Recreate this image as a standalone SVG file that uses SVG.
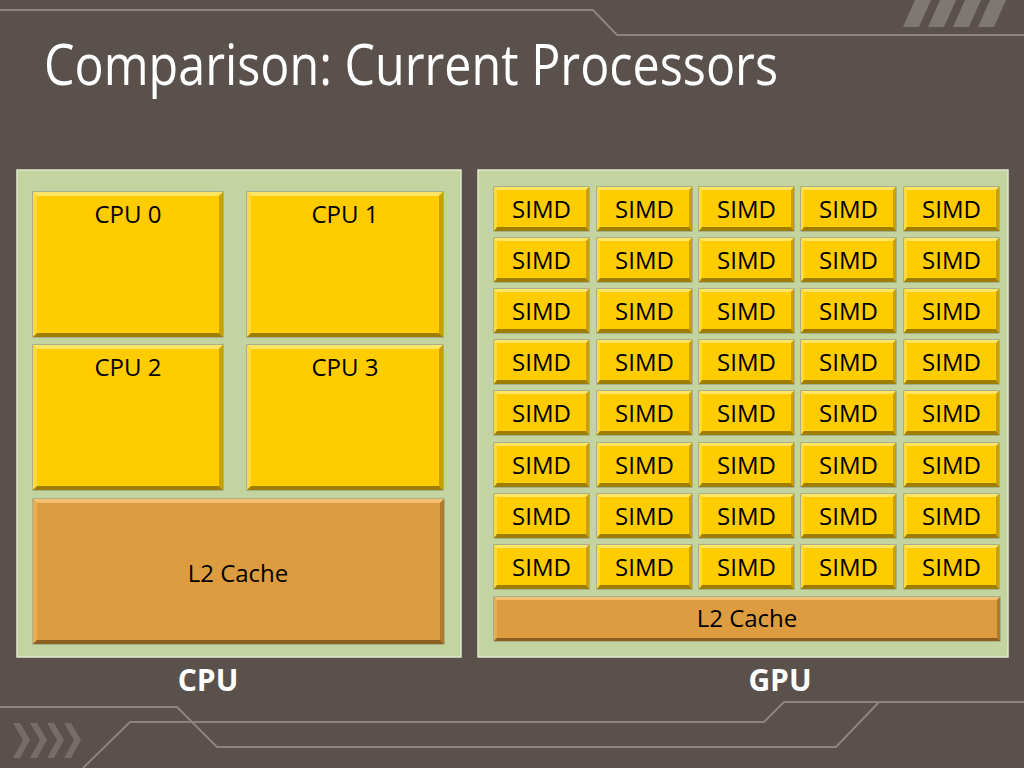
<svg xmlns="http://www.w3.org/2000/svg" xmlns:xlink="http://www.w3.org/1999/xlink" width="1024" height="768" viewBox="0 0 1024 768">
<style>
.deco{fill:none;stroke:#8d847f;stroke-width:2}
.stripe{fill:#7e7773}
.chev{fill:#766d69}
.panel{fill:#c4d4a0;stroke:#dfe7cb;stroke-width:1.5}
.yel{fill:#ffcc00;stroke:#8a8a76;stroke-width:1}
.ora{fill:#dd9c40;stroke:#8a8a76;stroke-width:1}
.yt{fill:#ffe566}.yl{fill:#ffd941}.yr{fill:#c9a000}.yb{fill:#9e7e00}
.ot{fill:#f2c070}.ol{fill:#e6ad55}.or{fill:#b07a2a}.ob{fill:#8c6020}
.lbl{font-family:"Open Sans","Noto Sans",sans-serif;font-size:24px;fill:#000;text-anchor:middle}
.big{font-family:"Open Sans","Noto Sans",sans-serif;font-size:30px;font-weight:bold;fill:#fff;text-anchor:middle}
.title{font-family:"Open Sans","Noto Sans",sans-serif;font-size:56px;fill:#fff}
</style>
<defs>
<g id="simdbox">
<rect class="yel" x="0" y="0" width="95" height="44"/>
<polygon class="yt" points="0,0 95,0 92,3 3,3"/>
<polygon class="yl" points="0,0 3,3 3,40 0,44"/>
<polygon class="yr" points="95,0 95,44 92,40 92,3"/>
<polygon class="yb" points="0,44 95,44 92,40 3,40"/>
</g>
</defs>
<rect x="0" y="0" width="1024" height="768" fill="#5a514d"/>
<g id="decoration">
<polyline class="deco" points="0,10 593,10 617,35 1024,35"/>
<polygon class="stripe" points="915,0 931,0 919,27 903,27"/>
<polygon class="stripe" points="940,0 956,0 944,27 928,27"/>
<polygon class="stripe" points="965,0 981,0 969,27 953,27"/>
<polygon class="stripe" points="990,0 1006,0 994,27 978,27"/>
<polyline class="deco" points="0,707 177,707 217,747 836,747 879,702 1024,702"/>
<polyline class="deco" points="83,768 130,722 764,722 784,702 879,702"/>
<polygon class="chev" points="13,723 20,723 30,740 20,758 13,758 23,740"/>
<polygon class="chev" points="30,723 37,723 47,740 37,758 30,758 40,740"/>
<polygon class="chev" points="47,723 54,723 64,740 54,758 47,758 57,740"/>
<polygon class="chev" points="64,723 71,723 81,740 71,758 64,758 74,740"/>
</g>
<text class="title" x="44" y="85" textLength="734" lengthAdjust="spacingAndGlyphs">Comparison: Current Processors</text>
<g id="cpu-panel">
<rect class="panel" x="17" y="170" width="444" height="487"/>
<text class="big" x="208" y="691">CPU</text>
</g>
<g id="gpu-panel">
<rect class="panel" x="478" y="170" width="530" height="487"/>
<text class="big" x="780" y="691">GPU</text>
</g>
<g id="cpu0">
<rect class="yel" x="33" y="192" width="190" height="145"/>
<polygon class="yt" points="33,192 223,192 219,196 37,196"/>
<polygon class="yl" points="33,192 37,196 37,333 33,337"/>
<polygon class="yr" points="223,192 223,337 219,333 219,196"/>
<polygon class="yb" points="33,337 223,337 219,333 37,333"/>
<text class="lbl" x="128" y="223">CPU 0</text>
</g>
<g id="cpu1">
<rect class="yel" x="247" y="192" width="196" height="145"/>
<polygon class="yt" points="247,192 443,192 439,196 251,196"/>
<polygon class="yl" points="247,192 251,196 251,333 247,337"/>
<polygon class="yr" points="443,192 443,337 439,333 439,196"/>
<polygon class="yb" points="247,337 443,337 439,333 251,333"/>
<text class="lbl" x="345" y="223">CPU 1</text>
</g>
<g id="cpu2">
<rect class="yel" x="33" y="345" width="190" height="145"/>
<polygon class="yt" points="33,345 223,345 219,349 37,349"/>
<polygon class="yl" points="33,345 37,349 37,486 33,490"/>
<polygon class="yr" points="223,345 223,490 219,486 219,349"/>
<polygon class="yb" points="33,490 223,490 219,486 37,486"/>
<text class="lbl" x="128" y="376">CPU 2</text>
</g>
<g id="cpu3">
<rect class="yel" x="247" y="345" width="196" height="145"/>
<polygon class="yt" points="247,345 443,345 439,349 251,349"/>
<polygon class="yl" points="247,345 251,349 251,486 247,490"/>
<polygon class="yr" points="443,345 443,490 439,486 439,349"/>
<polygon class="yb" points="247,490 443,490 439,486 251,486"/>
<text class="lbl" x="345" y="376">CPU 3</text>
</g>
<g id="cpu-l2">
<rect class="ora" x="33" y="499" width="411" height="145"/>
<polygon class="ot" points="33,499 444,499 440,503 37,503"/>
<polygon class="ol" points="33,499 37,503 37,640 33,644"/>
<polygon class="or" points="444,499 444,644 440,640 440,503"/>
<polygon class="ob" points="33,644 444,644 440,640 37,640"/>
<text class="lbl" x="238" y="582">L2 Cache</text>
</g>
<g id="gpu-l2">
<rect class="ora" x="494" y="597" width="506" height="44"/>
<polygon class="ot" points="494,597 1000,597 997,600 497,600"/>
<polygon class="ol" points="494,597 497,600 497,638 494,641"/>
<polygon class="or" points="1000,597 1000,641 997,638 997,600"/>
<polygon class="ob" points="494,641 1000,641 997,638 497,638"/>
<text class="lbl" x="747" y="627">L2 Cache</text>
</g>
<g id="simd-r1c1"><use xlink:href="#simdbox" x="494" y="187"/><text class="lbl" x="541.5" y="218">SIMD</text></g>
<g id="simd-r1c2"><use xlink:href="#simdbox" x="597" y="187"/><text class="lbl" x="644.5" y="218">SIMD</text></g>
<g id="simd-r1c3"><use xlink:href="#simdbox" x="699" y="187"/><text class="lbl" x="746.5" y="218">SIMD</text></g>
<g id="simd-r1c4"><use xlink:href="#simdbox" x="801" y="187"/><text class="lbl" x="848.5" y="218">SIMD</text></g>
<g id="simd-r1c5"><use xlink:href="#simdbox" x="904" y="187"/><text class="lbl" x="951.5" y="218">SIMD</text></g>
<g id="simd-r2c1"><use xlink:href="#simdbox" x="494" y="238"/><text class="lbl" x="541.5" y="269">SIMD</text></g>
<g id="simd-r2c2"><use xlink:href="#simdbox" x="597" y="238"/><text class="lbl" x="644.5" y="269">SIMD</text></g>
<g id="simd-r2c3"><use xlink:href="#simdbox" x="699" y="238"/><text class="lbl" x="746.5" y="269">SIMD</text></g>
<g id="simd-r2c4"><use xlink:href="#simdbox" x="801" y="238"/><text class="lbl" x="848.5" y="269">SIMD</text></g>
<g id="simd-r2c5"><use xlink:href="#simdbox" x="904" y="238"/><text class="lbl" x="951.5" y="269">SIMD</text></g>
<g id="simd-r3c1"><use xlink:href="#simdbox" x="494" y="289"/><text class="lbl" x="541.5" y="320">SIMD</text></g>
<g id="simd-r3c2"><use xlink:href="#simdbox" x="597" y="289"/><text class="lbl" x="644.5" y="320">SIMD</text></g>
<g id="simd-r3c3"><use xlink:href="#simdbox" x="699" y="289"/><text class="lbl" x="746.5" y="320">SIMD</text></g>
<g id="simd-r3c4"><use xlink:href="#simdbox" x="801" y="289"/><text class="lbl" x="848.5" y="320">SIMD</text></g>
<g id="simd-r3c5"><use xlink:href="#simdbox" x="904" y="289"/><text class="lbl" x="951.5" y="320">SIMD</text></g>
<g id="simd-r4c1"><use xlink:href="#simdbox" x="494" y="340"/><text class="lbl" x="541.5" y="371">SIMD</text></g>
<g id="simd-r4c2"><use xlink:href="#simdbox" x="597" y="340"/><text class="lbl" x="644.5" y="371">SIMD</text></g>
<g id="simd-r4c3"><use xlink:href="#simdbox" x="699" y="340"/><text class="lbl" x="746.5" y="371">SIMD</text></g>
<g id="simd-r4c4"><use xlink:href="#simdbox" x="801" y="340"/><text class="lbl" x="848.5" y="371">SIMD</text></g>
<g id="simd-r4c5"><use xlink:href="#simdbox" x="904" y="340"/><text class="lbl" x="951.5" y="371">SIMD</text></g>
<g id="simd-r5c1"><use xlink:href="#simdbox" x="494" y="391"/><text class="lbl" x="541.5" y="422">SIMD</text></g>
<g id="simd-r5c2"><use xlink:href="#simdbox" x="597" y="391"/><text class="lbl" x="644.5" y="422">SIMD</text></g>
<g id="simd-r5c3"><use xlink:href="#simdbox" x="699" y="391"/><text class="lbl" x="746.5" y="422">SIMD</text></g>
<g id="simd-r5c4"><use xlink:href="#simdbox" x="801" y="391"/><text class="lbl" x="848.5" y="422">SIMD</text></g>
<g id="simd-r5c5"><use xlink:href="#simdbox" x="904" y="391"/><text class="lbl" x="951.5" y="422">SIMD</text></g>
<g id="simd-r6c1"><use xlink:href="#simdbox" x="494" y="443"/><text class="lbl" x="541.5" y="474">SIMD</text></g>
<g id="simd-r6c2"><use xlink:href="#simdbox" x="597" y="443"/><text class="lbl" x="644.5" y="474">SIMD</text></g>
<g id="simd-r6c3"><use xlink:href="#simdbox" x="699" y="443"/><text class="lbl" x="746.5" y="474">SIMD</text></g>
<g id="simd-r6c4"><use xlink:href="#simdbox" x="801" y="443"/><text class="lbl" x="848.5" y="474">SIMD</text></g>
<g id="simd-r6c5"><use xlink:href="#simdbox" x="904" y="443"/><text class="lbl" x="951.5" y="474">SIMD</text></g>
<g id="simd-r7c1"><use xlink:href="#simdbox" x="494" y="494"/><text class="lbl" x="541.5" y="525">SIMD</text></g>
<g id="simd-r7c2"><use xlink:href="#simdbox" x="597" y="494"/><text class="lbl" x="644.5" y="525">SIMD</text></g>
<g id="simd-r7c3"><use xlink:href="#simdbox" x="699" y="494"/><text class="lbl" x="746.5" y="525">SIMD</text></g>
<g id="simd-r7c4"><use xlink:href="#simdbox" x="801" y="494"/><text class="lbl" x="848.5" y="525">SIMD</text></g>
<g id="simd-r7c5"><use xlink:href="#simdbox" x="904" y="494"/><text class="lbl" x="951.5" y="525">SIMD</text></g>
<g id="simd-r8c1"><use xlink:href="#simdbox" x="494" y="545"/><text class="lbl" x="541.5" y="576">SIMD</text></g>
<g id="simd-r8c2"><use xlink:href="#simdbox" x="597" y="545"/><text class="lbl" x="644.5" y="576">SIMD</text></g>
<g id="simd-r8c3"><use xlink:href="#simdbox" x="699" y="545"/><text class="lbl" x="746.5" y="576">SIMD</text></g>
<g id="simd-r8c4"><use xlink:href="#simdbox" x="801" y="545"/><text class="lbl" x="848.5" y="576">SIMD</text></g>
<g id="simd-r8c5"><use xlink:href="#simdbox" x="904" y="545"/><text class="lbl" x="951.5" y="576">SIMD</text></g>
<g id="connectors"></g>
</svg>
